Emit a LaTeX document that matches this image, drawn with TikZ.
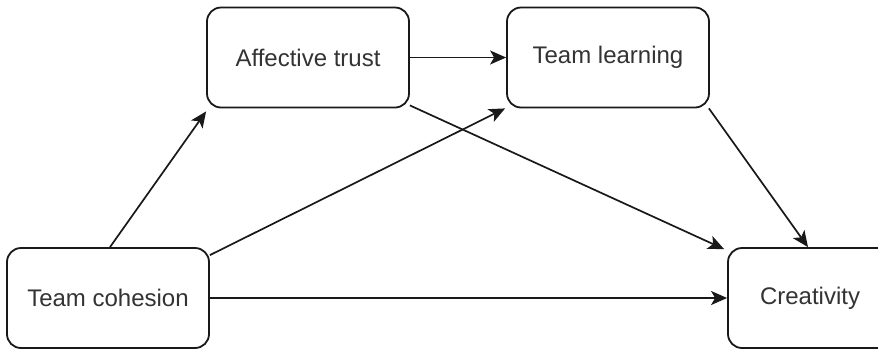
\documentclass[tikz,border=0pt]{standalone}
\usepackage{fontspec}
\setmainfont{Liberation Sans}
\usetikzlibrary{arrows.meta,calc}
\begin{document}
\begin{tikzpicture}[x=1pt,y=-1pt,
  box/.style={draw=black!90,line width=1.8pt,rounded corners=14pt,fill=white,
    minimum height=100pt,inner sep=0pt,text=black!80,
    font=\fontsize{24}{28}\selectfont},
  arr/.style={draw=black!90,line width=1.7pt,-{Stealth[length=16pt,width=14pt,inset=4pt]}}]
\useasboundingbox[fill=white] (0,0) rectangle (878,349);
\clip (0,0) rectangle (878,349);
\node[box,minimum width=202pt] (aff) at (308,57.5) {Affective trust};
\node[box,minimum width=202pt] (tl) at (608,57.5) {Team learning};
\node[box,minimum width=202pt] (coh) at (108,298) {Team cohesion};
\node[box,minimum width=164pt] (cre) at (810,298) {Creativity};
\draw[arr] ($(coh.north)+(2,0)$) -- ($(aff.south west)+(0,3)$);
\draw[arr] ($(coh.north east)+(0,8)$) -- ($(tl.south west)+(-1,0)$);
\draw[arr] (aff.east) -- (tl.west);
\draw[arr] ($(aff.south east)+(0,-3)$) -- ($(cre.north west)+(-3,2)$);
\draw[arr] ($(tl.south east)+(-1,0)$) -- ($(cre.north)+(-2,0)$);
\draw[arr] (coh.east) -- (cre.west);
\end{tikzpicture}
\end{document}
